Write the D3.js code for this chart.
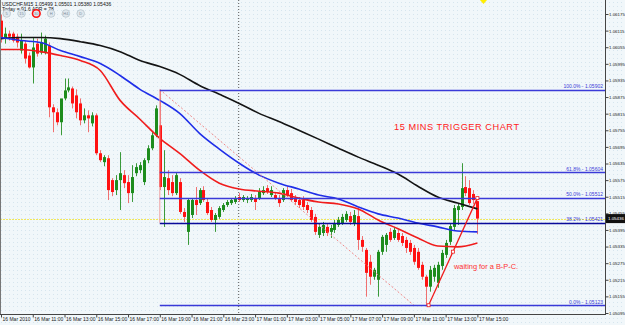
<!DOCTYPE html>
<html>
<head>
<meta charset="utf-8">
<script src="https://cdn.jsdelivr.net/npm/d3@7"></script>
<style>
body{margin:0;background:#f1f7fa}
svg{display:block}
</style>
</head>
<body>
<div id="chart"></div>
<script>
// USDCHF M15, 16 Mar 09:00 .. 17 Mar 15:00 (121 bars)
var open = [1.06151,1.06086,1.06104,1.06104,1.06093,1.06043,1.06068,1.06025,1.05982,1.06068,
1.06036,1.06036,1.06061,1.05838,1.05820,1.05784,1.05870,1.05899,1.05906,1.05881,
1.05852,1.05791,1.05809,1.05780,1.05809,1.05672,1.05640,1.05654,1.05575,1.05539,
1.05575,1.05593,1.05568,1.05528,1.05600,1.05611,1.05568,1.05647,1.05690,1.05737,
1.05773,1.05550,1.05582,1.05568,1.05528,1.05568,1.05460,1.05388,1.05449,1.05503,
1.05492,1.05539,1.05496,1.05467,1.05431,1.05442,1.05467,1.05485,1.05492,1.05496,
1.05514,1.05503,1.05503,1.05503,1.05510,1.05510,1.05528,1.05546,1.05521,1.05521,
1.05510,1.05503,1.05539,1.05528,1.05510,1.05503,1.05503,1.05485,1.05467,1.05442,
1.05377,1.05384,1.05406,1.05388,1.05395,1.05413,1.05420,1.05431,1.05445,1.05420,
1.05445,1.05359,1.05323,1.05280,1.05226,1.05215,1.05316,1.05341,1.05388,1.05366,
1.05384,1.05373,1.05359,1.05348,1.05330,1.05316,1.05269,1.05226,1.05190,1.05226,
1.05204,1.05265,1.05305,1.05352,1.05406,1.05467,1.05478,1.05550,1.05546,1.05525,
1.05499];
var high = [1.06173,1.06126,1.06115,1.06111,1.06104,1.06104,1.06079,1.06036,1.06090,1.06086,
1.06108,1.06097,1.06072,1.05849,1.05834,1.05798,1.05942,1.05942,1.05913,1.05903,
1.05870,1.05834,1.05827,1.05820,1.05816,1.05683,1.05665,1.05665,1.05582,1.05593,
1.05676,1.05611,1.05593,1.05629,1.05636,1.05640,1.05654,1.05701,1.05748,1.05845,
1.05902,1.05683,1.05611,1.05593,1.05604,1.05582,1.05474,1.05510,1.05510,1.05550,
1.05546,1.05553,1.05510,1.05478,1.05456,1.05481,1.05492,1.05503,1.05510,1.05517,
1.05528,1.05521,1.05517,1.05525,1.05521,1.05546,1.05553,1.05557,1.05553,1.05532,
1.05521,1.05546,1.05553,1.05543,1.05521,1.05514,1.05517,1.05496,1.05478,1.05453,
1.05417,1.05424,1.05417,1.05413,1.05431,1.05442,1.05453,1.05463,1.05460,1.05467,
1.05474,1.05373,1.05330,1.05305,1.05258,1.05323,1.05377,1.05384,1.05402,1.05406,
1.05395,1.05384,1.05370,1.05359,1.05341,1.05330,1.05280,1.05233,1.05265,1.05269,
1.05280,1.05323,1.05359,1.05417,1.05485,1.05492,1.05636,1.05589,1.05575,1.05539,
1.05501];
var low = [1.06072,1.06068,1.06079,1.06072,1.06054,1.06032,1.05996,1.05978,1.05924,1.06021,
1.06029,1.06029,1.05802,1.05748,1.05773,1.05737,1.05863,1.05892,1.05834,1.05798,
1.05773,1.05780,1.05748,1.05769,1.05665,1.05640,1.05625,1.05503,1.05517,1.05521,
1.05467,1.05546,1.05492,1.05496,1.05589,1.05600,1.05557,1.05636,1.05683,1.05730,
1.05539,1.05406,1.05521,1.05517,1.05521,1.05453,1.05424,1.05341,1.05438,1.05449,
1.05485,1.05496,1.05449,1.05424,1.05388,1.05435,1.05460,1.05478,1.05485,1.05489,
1.05496,1.05496,1.05492,1.05496,1.05467,1.05503,1.05521,1.05525,1.05514,1.05503,
1.05478,1.05496,1.05514,1.05496,1.05485,1.05474,1.05467,1.05456,1.05424,1.05377,
1.05366,1.05373,1.05373,1.05366,1.05384,1.05406,1.05413,1.05424,1.05413,1.05409,
1.05323,1.05316,1.05154,1.05197,1.05215,1.05154,1.05305,1.05316,1.05352,1.05359,
1.05352,1.05337,1.05312,1.05305,1.05269,1.05251,1.05215,1.05123,1.05172,1.05208,
1.05186,1.05251,1.05294,1.05341,1.05395,1.05413,1.05467,1.05517,1.05485,1.05489,
1.05380];
var close = [1.06086,1.06104,1.06093,1.06079,1.06072,1.06079,1.06014,1.05982,1.06054,1.06032,
1.06072,1.06086,1.05838,1.05820,1.05784,1.05870,1.05899,1.05910,1.05852,1.05820,
1.05791,1.05809,1.05798,1.05809,1.05672,1.05647,1.05658,1.05539,1.05532,1.05575,
1.05600,1.05564,1.05528,1.05586,1.05622,1.05629,1.05647,1.05690,1.05737,1.05834,
1.05550,1.05586,1.05539,1.05528,1.05593,1.05460,1.05442,1.05503,1.05503,1.05485,
1.05539,1.05503,1.05456,1.05431,1.05449,1.05474,1.05485,1.05496,1.05503,1.05510,
1.05503,1.05514,1.05510,1.05514,1.05496,1.05532,1.05539,1.05532,1.05539,1.05510,
1.05492,1.05539,1.05521,1.05503,1.05496,1.05485,1.05478,1.05467,1.05431,1.05388,
1.05406,1.05413,1.05384,1.05402,1.05420,1.05431,1.05442,1.05453,1.05424,1.05449,
1.05359,1.05334,1.05240,1.05226,1.05251,1.05316,1.05370,1.05377,1.05359,1.05395,
1.05359,1.05348,1.05330,1.05316,1.05280,1.05258,1.05226,1.05190,1.05251,1.05258,
1.05269,1.05312,1.05348,1.05409,1.05474,1.05481,1.05546,1.05528,1.05492,1.05503,
1.05436];

// moving averages read every 5 bars
var maBars  = [0,5,10,15,20,25,30,35,40,45,50,55,60,65,70,75,80,85,90,95,100,105,110,115,120];
var maBlack = [1.06086,1.06090,1.06090,1.06086,1.06075,1.06061,1.06039,1.06007,1.05985,1.05957,1.05917,1.05885,1.05852,1.05816,1.05787,1.05755,1.05723,1.05690,1.05658,1.05629,1.05597,1.05553,1.05514,1.05492,1.05471];
var maBlue  = [1.06090,1.06079,1.06072,1.06043,1.06021,1.05996,1.05953,1.05903,1.05863,1.05816,1.05744,1.05687,1.05636,1.05593,1.05564,1.05543,1.05521,1.05507,1.05478,1.05453,1.05438,1.05420,1.05406,1.05391,1.05388];
var maRed   = [1.06047,1.06047,1.06039,1.06025,1.06007,1.05971,1.05863,1.05795,1.05726,1.05672,1.05611,1.05564,1.05543,1.05535,1.05528,1.05510,1.05496,1.05489,1.05471,1.05431,1.05399,1.05366,1.05337,1.05334,1.05348];

var timeLabels = ["16 Mar 2010","16 Mar 11:00","16 Mar 13:00","16 Mar 15:00","16 Mar 17:00","16 Mar 19:00","16 Mar 21:00","16 Mar 23:00",
  "17 Mar 01:00","17 Mar 03:00","17 Mar 05:00","17 Mar 07:00","17 Mar 09:00","17 Mar 11:00","17 Mar 13:00","17 Mar 15:00"];
var priceTicks = [1.06175,1.06115,1.06055,1.05995,1.05935,1.05875,1.05815,1.05755,1.05695,1.05635,1.05575,1.05515,1.05455,1.05395,1.05335,1.05275,1.05215,1.05155,1.05095];

var fibNames  = ["100.0%","61.8%","50.0%","38.2%","0.0%"];
var fibPrices = [1.05902,1.05604,1.05512,1.05421,1.05123];
var fibFrom = 40;               // bar of the swing high
var fibLineBars = [40,104];     // dashed base line of the fibo object
var trendBars = [107.7,120];
var trendPrices = [1.05123,1.05510];
var bid = 1.05436;
var tfButtons = ["5","15","30","H","H4","D"];

var svg = d3.select("#chart").append("svg")
  .attr("width",625).attr("height",325)
  .style("font-family","Arial, 'Liberation Sans', sans-serif");

var defs = svg.append("defs");
var pat = defs.append("pattern").attr("id","dots")
  .attr("width",4).attr("height",4).attr("patternUnits","userSpaceOnUse");
pat.append("rect").attr("width",4).attr("height",4).attr("fill","#f1f7fa");
pat.append("rect").attr("x",1).attr("y",2).attr("width",1).attr("height",1).attr("fill","#d6e5ee");
defs.append("clipPath").attr("id","plot").append("rect").attr("width",605).attr("height",314);

svg.append("rect").attr("width",625).attr("height",325).attr("fill","url(#dots)");

var x = d3.scaleLinear().domain([0,120]).range([1,477.4]);
var y = d3.scaleLinear().domain([1.06175,1.05095]).range([14,313]);

var plot = svg.append("g").attr("clip-path","url(#plot)");

// day separator
plot.append("line")
  .attr("x1",x(60)-0.5).attr("x2",x(60)-0.5).attr("y1",0).attr("y2",314)
  .attr("stroke","#555").attr("stroke-dasharray","1,2");

// bid line
plot.append("line")
  .attr("x1",0).attr("x2",605).attr("y1",Math.round(y(bid))+0.5).attr("y2",Math.round(y(bid))+0.5)
  .attr("stroke","#f2e85a").attr("stroke-dasharray","2,1");

// candles
var bars = d3.range(open.length);
var up = function(i){ return close[i] >= open[i]; };
plot.append("g").selectAll("line").data(bars).enter().append("line")
  .attr("x1",function(i){return Math.round(x(i))+0.5})
  .attr("x2",function(i){return Math.round(x(i))+0.5})
  .attr("y1",function(i){return y(high[i])})
  .attr("y2",function(i){return y(low[i])})
  .attr("stroke",function(i){return up(i) ? "#3a9a3a" : "#f07070"});
plot.append("g").selectAll("rect").data(bars).enter().append("rect")
  .attr("x",function(i){return Math.round(x(i))-1})
  .attr("width",3)
  .attr("y",function(i){return y(Math.max(open[i],close[i]))})
  .attr("height",function(i){return Math.max(1,Math.abs(y(open[i])-y(close[i])))})
  .attr("fill",function(i){return up(i) ? "#1d8c1d" : "#ff1212"});

// moving averages
function maLine(vals,color){
  var line = d3.line()
    .x(function(d,i){return x(maBars[i])})
    .y(function(d){return y(d)})
    .curve(d3.curveMonotoneX);
  plot.append("path").datum(vals).attr("d",line)
    .attr("fill","none").attr("stroke",color).attr("stroke-width",1.6);
}
maLine(maBlack,"#141414");
maLine(maBlue,"#1f2ee8");
maLine(maRed,"#f01c1c");

// fibonacci object
plot.append("line")
  .attr("x1",x(fibLineBars[0])).attr("y1",y(fibPrices[0]))
  .attr("x2",x(fibLineBars[1])).attr("y2",y(fibPrices[4]))
  .attr("stroke","#f08a8a").attr("stroke-dasharray","2,2");
plot.append("line")
  .attr("x1",x(fibFrom)).attr("x2",x(fibFrom)).attr("y1",y(fibPrices[0])).attr("y2",y(fibPrices[3]))
  .attr("stroke","#f0a0a0");
plot.append("g").selectAll("line").data(fibPrices).enter().append("line")
  .attr("x1",x(fibFrom)).attr("x2",605)
  .attr("y1",function(d){return Math.round(y(d))+0.5})
  .attr("y2",function(d){return Math.round(y(d))+0.5})
  .attr("stroke",function(d,i){return i==3 ? "#0a0a9a" : "#3a3ad8"})
  .attr("stroke-width",function(d,i){return i==3 ? 1.6 : 1.4});
svg.append("g").selectAll("text").data(fibPrices).enter().append("text")
  .attr("x",603).attr("y",function(d){return y(d)-1.5})
  .attr("text-anchor","end").attr("font-size",5).attr("fill","#3a3ad8")
  .text(function(d,i){return fibNames[i]+" - "+d3.format(".5f")(d)});

// trend line
plot.append("line")
  .attr("x1",x(trendBars[0])).attr("y1",y(trendPrices[0]))
  .attr("x2",x(trendBars[1])).attr("y2",y(trendPrices[1]))
  .attr("stroke","#f01c1c").attr("stroke-width",1.3);
var tpts = [0,0.5,1].map(function(t){
  return [x(trendBars[0])+(x(trendBars[1])-x(trendBars[0]))*t, y(trendPrices[0])+(y(trendPrices[1])-y(trendPrices[0]))*t];
});
plot.append("g").selectAll("rect").data(tpts).enter().append("rect")
  .attr("x",function(d){return d[0]-1.5}).attr("y",function(d){return d[1]-1.5})
  .attr("width",3).attr("height",3).attr("fill","#fff").attr("stroke","#f01c1c").attr("stroke-width",0.8);

// annotations
svg.append("text").attr("x",394).attr("y",129.5)
  .attr("font-size",9.2).attr("fill","#ff2020").attr("textLength",125)
  .text("15 MINS TRIGGER CHART");
svg.append("text").attr("x",454).attr("y",269)
  .attr("font-size",7.4).attr("fill","#ff3030")
  .text("waiting for a B-P-C.");

// frame
svg.append("line").attr("x1",0.5).attr("x2",0.5).attr("y1",0).attr("y2",314).attr("stroke","#777");
svg.append("line").attr("x1",605.5).attr("x2",605.5).attr("y1",0).attr("y2",314.5).attr("stroke","#444");
svg.append("line").attr("x1",0).attr("x2",606).attr("y1",314.5).attr("y2",314.5).attr("stroke","#444");

// price axis
var yAxis = d3.axisRight(y).tickValues(priceTicks).tickSize(3).tickSizeOuter(0).tickFormat(d3.format(".5f"));
var ya = svg.append("g").attr("transform","translate(605.5,0)").call(yAxis);
ya.select(".domain").remove();
ya.selectAll("line").attr("stroke","#444");
ya.selectAll("text").attr("font-size",4.4).attr("fill","#222").attr("x",3.5);

// time axis
var labelBars = d3.range(0,121,8);
var xAxis = d3.axisBottom(x).tickValues(labelBars).tickSize(3).tickSizeOuter(0)
  .tickFormat(function(d,i){return timeLabels[i]});
var xa = svg.append("g").attr("transform","translate(0,314.5)").call(xAxis);
xa.select(".domain").remove();
xa.selectAll("line").attr("stroke","#444");
xa.selectAll("text").attr("font-size",5).attr("fill","#222").attr("text-anchor","start").attr("x",1).attr("y",3);

// bid tag
svg.append("rect").attr("x",606).attr("y",y(bid)-4.5).attr("width",19).attr("height",9).attr("fill","#111");
svg.append("text").attr("x",608).attr("y",y(bid)+1.6).attr("font-size",4.4).attr("fill","#fff").text(d3.format(".5f")(bid));

// header
svg.append("text").attr("x",2).attr("y",6).attr("font-size",5).attr("fill","#111")
  .text("USDCHF,M15  "+[open[120],high[120],low[120],close[120]].map(d3.format(".5f")).join(" "));
svg.append("text").attr("x",2).attr("y",11).attr("font-size",5).attr("fill","#111")
  .text("Today = 91.6     ADR = 78");
var btn = svg.append("g").selectAll("g").data(tfButtons).enter().append("g")
  .attr("transform",function(d,i){return "translate("+(6.7+i*14.8)+",13.5)"});
btn.append("circle").attr("r",3.8)
  .attr("fill","#dfe8ee")
  .attr("stroke",function(d){return d=="30" ? "#ff1010" : "#b8c4cc"})
  .attr("stroke-width",function(d){return d=="30" ? 1.6 : 0.8});
btn.append("text").attr("text-anchor","middle").attr("y",1.5).attr("font-size",4).attr("fill","#7a8a9a").text(function(d){return d});

// small yellow marker at the top
svg.append("path").attr("d","M480,0L487,0L483.5,4Z").attr("fill","#ffee00");
</script>
</body>
</html>
